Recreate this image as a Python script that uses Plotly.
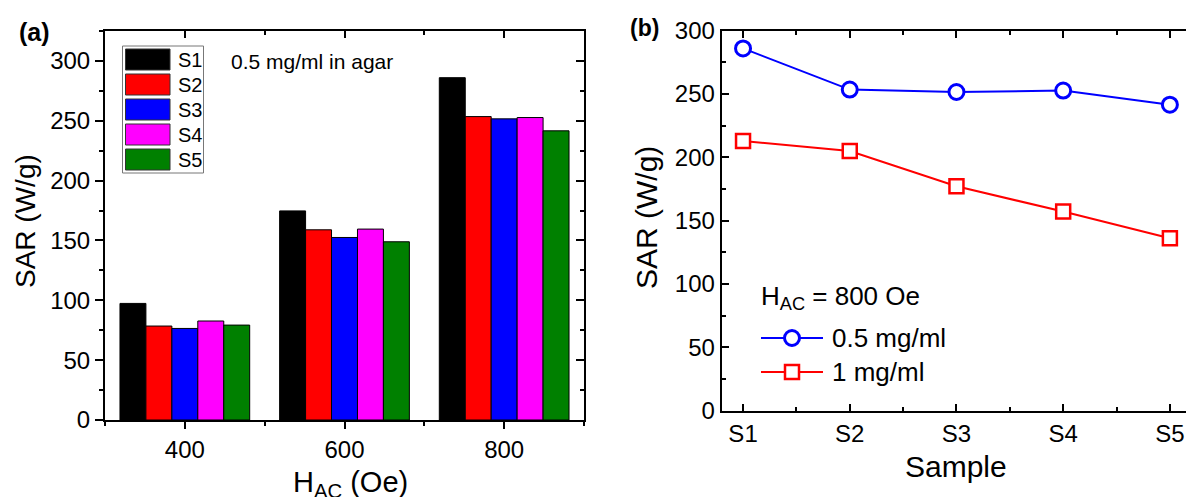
import plotly.graph_objects as go

# ---------------- data ----------------
fields_oe = [400, 600, 800]
samples = ["S1", "S2", "S3", "S4", "S5"]
sample_colors = ["#000000", "#FF0000", "#0000FF", "#FF00FF", "#008000"]
sar_s1 = [97.4, 174.7, 286.0]
sar_s2 = [78.5, 158.9, 253.5]
sar_s3 = [76.5, 152.5, 251.6]
sar_s4 = [82.7, 159.5, 252.7]
sar_s5 = [79.3, 148.9, 241.6]
sar_by_sample = [sar_s1, sar_s2, sar_s3, sar_s4, sar_s5]

sample_index = [1, 2, 3, 4, 5]
sar_05_mgml = [286.0, 253.5, 251.6, 252.7, 241.6]
sar_1_mgml = [213.0, 205.0, 177.2, 157.2, 136.2]

W, H = 1186, 497
FONT = "Liberation Sans, Arial, sans-serif"


def px(x):
    return x / W


def py(y):
    return 1 - y / H


fig = go.Figure()

# ---------------- panel (a): grouped bars ----------------
for name, vals, col in zip(samples, sar_by_sample, sample_colors):
    fig.add_trace(go.Bar(
        x=fields_oe, y=vals, name=name, xaxis="x", yaxis="y",
        marker=dict(color=col, line=dict(color="#000000", width=1)),
        showlegend=False,
    ))
# invisible helper so the inward ticks on the top/right frame are drawn
fig.add_trace(go.Scatter(x=fields_oe, y=sar_s1, xaxis="x3", yaxis="y3",
                         mode="markers", marker=dict(opacity=0),
                         hoverinfo="skip", showlegend=False))

# ---------------- panel (b): lines ----------------
fig.add_trace(go.Scatter(
    x=sample_index, y=sar_05_mgml, name="0.5 mg/ml", xaxis="x2", yaxis="y2",
    mode="lines+markers", line=dict(color="#0000FF", width=2),
    marker=dict(symbol="circle", size=15, color="white",
                line=dict(color="#0000FF", width=3)),
    showlegend=False, cliponaxis=False,
))
fig.add_trace(go.Scatter(
    x=sample_index, y=sar_1_mgml, name="1 mg/ml", xaxis="x2", yaxis="y2",
    mode="lines+markers", line=dict(color="#FF0000", width=2),
    marker=dict(symbol="square", size=14, color="white",
                line=dict(color="#FF0000", width=2.5)),
    showlegend=False, cliponaxis=False,
))

tf = dict(family=FONT, size=24, color="black")
base = dict(showgrid=False, zeroline=False, tickcolor="black", tickwidth=1.5,
            tickfont=tf, automargin=False)
line_on = dict(showline=True, linecolor="black", linewidth=2, mirror=True)

xa_dom = [px(105), px(584)]
ya_dom = [py(420), py(31)]
xb_dom = [px(721.7), 1.0]
yb_dom = [py(410.7), py(30.7)]


def minor(d, t0, direction):
    return dict(dtick=d, tick0=t0, ticks=direction, ticklen=4,
                tickcolor="black", tickwidth=1.5)


fig.update_layout(
    width=W, height=H, autosize=False,
    margin=dict(l=0, r=0, t=0, b=0, pad=0, autoexpand=False),
    paper_bgcolor="white", plot_bgcolor="white",
    barmode="group", bargap=0.1875, bargroupgap=0,
    font=dict(family=FONT, color="black"),
    xaxis=dict(domain=xa_dom, range=[300, 900], anchor="y",
               tickvals=fields_oe, ticks="outside", ticklen=7,
               minor=minor(100, 300, "outside"), **line_on, **base),
    yaxis=dict(domain=ya_dom, range=[0, 325], anchor="x",
               dtick=50, ticks="outside", ticklen=8,
               minor=minor(25, 0, "outside"), **line_on, **base),
    xaxis3=dict(domain=xa_dom, range=[300, 900], anchor="y", overlaying="x",
                side="top", tickvals=fields_oe, ticks="inside", ticklen=7,
                showticklabels=False, showline=False,
                minor=minor(100, 300, "inside"), **base),
    yaxis3=dict(domain=ya_dom, range=[0, 325], anchor="x", overlaying="y",
                side="right", dtick=50, ticks="inside", ticklen=8,
                showticklabels=False, showline=False,
                minor=minor(25, 0, "inside"), **base),
    xaxis2=dict(domain=xb_dom, range=[0.8, 5.151], anchor="y2",
                tickvals=sample_index, ticktext=samples,
                ticks="inside", ticklen=7, minor=minor(0.5, 1, "inside"),
                showline=True, linecolor="black", linewidth=2, mirror="ticks",
                **base),
    yaxis2=dict(domain=yb_dom, range=[0, 300], anchor="x2",
                dtick=50, ticks="inside", ticklen=7,
                minor=minor(25, 0, "inside"),
                showline=True, linecolor="black", linewidth=2, mirror=False,
                **base),
)

ann = []
shapes = []


def text(x, y, s, size, xanchor="center", yanchor="middle", bold=False, angle=0):
    ann.append(dict(xref="paper", yref="paper", x=px(x), y=py(y), text=s,
                    showarrow=False, xanchor=xanchor, yanchor=yanchor,
                    textangle=angle,
                    font=dict(family=FONT, size=size, color="black",
                              weight="bold" if bold else "normal")))


# panel labels
text(34, 32, "(a)", 25, bold=True)
text(644, 28, "(b)", 23, bold=True)

# axis titles
text(25, 221, "SAR (W/g)", 28, angle=-90)
text(646, 218, "SAR (W/g)", 30, angle=-90)
text(350, 484, "H<sub>AC</sub> (Oe)", 29)
text(956, 466, "Sample", 30)

# panel (a) note
text(229, 61, "0.5 mg/ml in agar", 21, xanchor="left")

# panel (a) legend box
shapes.append(dict(type="rect", xref="paper", yref="paper",
                   x0=px(122.5), x1=px(203.5), y0=py(173), y1=py(46),
                   line=dict(color="#777777", width=1), fillcolor="white",
                   layer="above"))
for i, (name, col) in enumerate(zip(samples, sample_colors)):
    top = 49 + 25 * i
    shapes.append(dict(type="rect", xref="paper", yref="paper",
                       x0=px(125.5), x1=px(170), y0=py(top + 21), y1=py(top),
                       line=dict(color="#333333", width=1), fillcolor=col,
                       layer="above"))
    text(176, top + 11, name, 20, xanchor="left")

# panel (b) legend
text(759, 297, "H<sub>AC</sub> = 800 Oe", 26, xanchor="left")
leg_rows = [(338, "#0000FF", "circle", "0.5 mg/ml"),
            (372, "#FF0000", "square", "1 mg/ml")]
for yy, col, sym, label in leg_rows:
    shapes.append(dict(type="line", xref="paper", yref="paper",
                       x0=px(761), x1=px(823), y0=py(yy), y1=py(yy),
                       line=dict(color=col, width=2), layer="above"))
    r = 7.5 if sym == "circle" else 7
    shapes.append(dict(type="circle" if sym == "circle" else "rect",
                       xref="paper", yref="paper",
                       x0=px(792 - r), x1=px(792 + r), y0=py(yy + r), y1=py(yy - r),
                       line=dict(color=col, width=3 if sym == "circle" else 2.5),
                       fillcolor="white", layer="above"))
    text(830, yy, label, 26, xanchor="left")

fig.update_layout(annotations=ann, shapes=shapes)
fig.write_html("out.html",
               config={"displayModeBar": False},
               post_script="document.body.style.margin='0px';"
                           "document.body.style.overflow='hidden';")
